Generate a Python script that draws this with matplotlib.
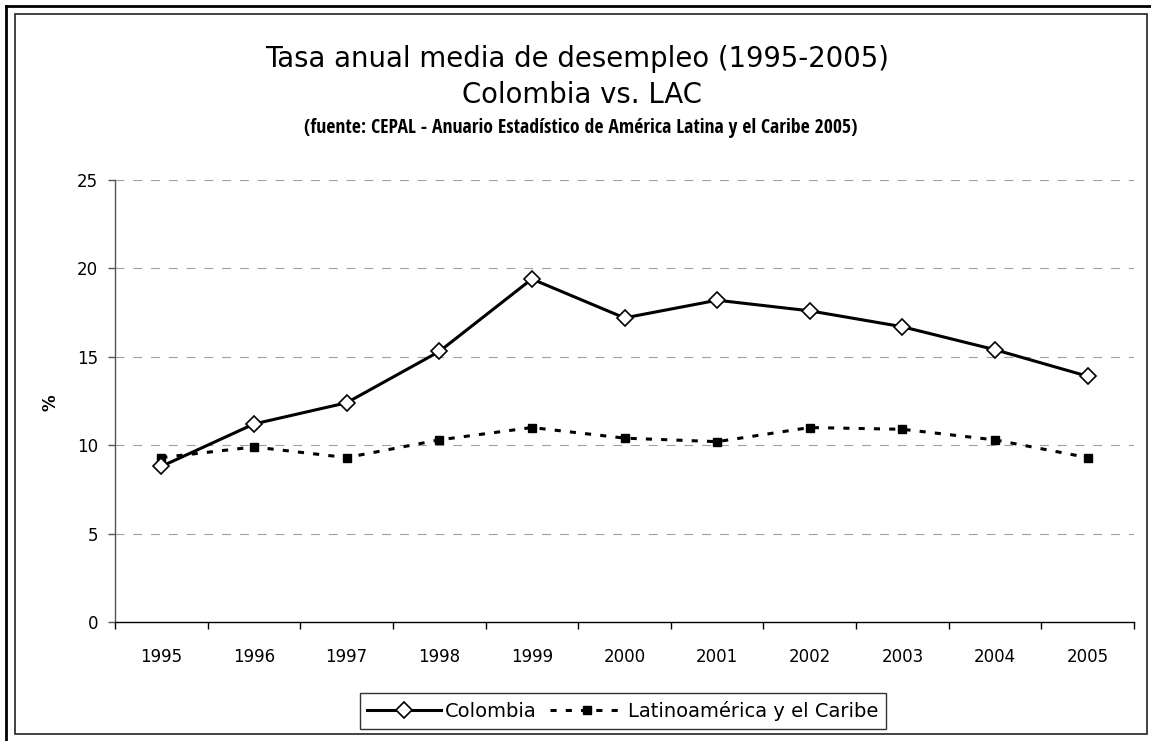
import matplotlib
matplotlib.use("Agg")
import matplotlib.pyplot as plt
from matplotlib import font_manager
from matplotlib.lines import Line2D
from matplotlib.patches import Rectangle

years = ["1995", "1996", "1997", "1998", "1999", "2000", "2001", "2002", "2003", "2004", "2005"]
colombia = [8.8, 11.2, 12.4, 15.3, 19.4, 17.2, 18.2, 17.6, 16.7, 15.4, 13.9]
lac = [9.3, 9.9, 9.3, 10.3, 11.0, 10.4, 10.2, 11.0, 10.9, 10.3, 9.3]
yticks = [0, 5, 10, 15, 20, 25]

# pick a condensed bold font for the source line, if one is installed
narrow_font = None
for f in font_manager.fontManager.ttflist:
    nm = f.name
    if nm in ("Liberation Sans Narrow", "Roboto Condensed", "Open Sans Condensed",
              "DejaVu Sans Condensed", "Noto Sans Condensed", "Arial Narrow"):
        narrow_font = font_manager.FontProperties(fname=f.fname)
        if "bold" in str(f.weight).lower() or (isinstance(f.weight, int) and f.weight >= 600):
            break
if narrow_font is None:
    for f in font_manager.fontManager.ttflist:
        if f.stretch in ("condensed", "semi-condensed", "extra-condensed") and \
                ("bold" in str(f.weight).lower() or (isinstance(f.weight, int) and f.weight >= 600)):
            narrow_font = font_manager.FontProperties(fname=f.fname)
            break

W, H = 1151, 741
fig = plt.figure(figsize=(W / 100, H / 100), dpi=100)

def fx(px):
    return px / W

def fy(py):
    return 1 - py / H

# outer frame (top and left thick lines)
fig.add_artist(Line2D([fx(6), fx(6)], [fy(741), fy(6)], color="black", lw=2.0))
fig.add_artist(Line2D([fx(6), fx(1151)], [fy(6), fy(6)], color="black", lw=2.0))
# inner chart frame
fig.add_artist(Rectangle((fx(15), fy(734)), fx(1147) - fx(15), fy(14) - fy(734),
                         fill=False, edgecolor="#222222", lw=1.2, transform=fig.transFigure))

ax = fig.add_axes([fx(115), fy(622), fx(1134) - fx(115), fy(180) - fy(622)])
x = list(range(len(years)))

ax.plot(x, colombia, color="black", lw=2.2, marker="D", markersize=8.5,
        markerfacecolor="white", markeredgecolor="black", markeredgewidth=1.2,
        label="Colombia", zorder=4)
ax.plot(x, lac, color="black", lw=2.2, linestyle=(0, (2.0, 3.0)), marker="s",
        markersize=5.5, markerfacecolor="black", markeredgecolor="black",
        label="Latinoamérica y el Caribe", zorder=3)

ax.set_xlim(-0.5, len(years) - 0.5)
ax.set_ylim(0, 25)
ax.set_yticks(yticks)
ax.set_yticklabels([str(v) for v in yticks])
ax.set_xticks(x)
ax.set_xticklabels(years)
ax.set_xticks([i - 0.5 for i in range(len(years) + 1)], minor=True)

ax.tick_params(axis="x", which="major", length=0, pad=19, labelsize=12)
ax.tick_params(axis="x", which="minor", length=5, width=1.0, direction="out", color="black")
ax.tick_params(axis="y", which="major", length=5, width=1.0, direction="out", pad=7,
               labelsize=12, color="#555555")

for yv in yticks[1:]:
    ax.axhline(yv, color="#a0a0a0", lw=0.8, linestyle=(0, (8, 8)), zorder=1)

for s in ["top", "right"]:
    ax.spines[s].set_visible(False)
ax.spines["left"].set_color("#555555")
ax.spines["left"].set_linewidth(1.0)
ax.spines["bottom"].set_color("black")
ax.spines["bottom"].set_linewidth(1.0)

fig.text(fx(50), fy(403), "%", rotation=90, ha="center", va="center",
         fontsize=12, fontweight="bold")

fig.text(fx(577), fy(67), "Tasa anual media de desempleo (1995-2005)", ha="center",
         va="baseline", fontsize=19.8)
fig.text(fx(582), fy(103), "Colombia vs. LAC", ha="center", va="baseline", fontsize=19.8)

src = "(fuente: CEPAL - Anuario Estadístico de América Latina y el Caribe 2005)"
if narrow_font is not None:
    narrow_font.set_size(12)
    t = fig.text(fx(581), fy(133), src, ha="center", va="baseline", fontproperties=narrow_font,
                 fontweight="bold")
else:
    t = fig.text(fx(581), fy(133), src, ha="center", va="baseline", fontsize=10.5,
                 fontweight="bold", family=["Liberation Sans", "DejaVu Sans"])
# fit the source line to the reference width (about 552 px)
fig.canvas.draw()
bb = t.get_window_extent()
if bb.width > 0:
    t.set_fontsize(t.get_fontsize() * 552.0 / bb.width)

leg = fig.legend(loc="center", bbox_to_anchor=(fx(623), fy(711)), ncol=2,
                 fontsize=14, frameon=True, fancybox=False, edgecolor="black",
                 handlelength=3.8, handletextpad=0.2, columnspacing=0.7,
                 borderpad=0.4, borderaxespad=0)
leg.get_frame().set_linewidth(1.0)

fig.savefig("out.png", dpi=100)
